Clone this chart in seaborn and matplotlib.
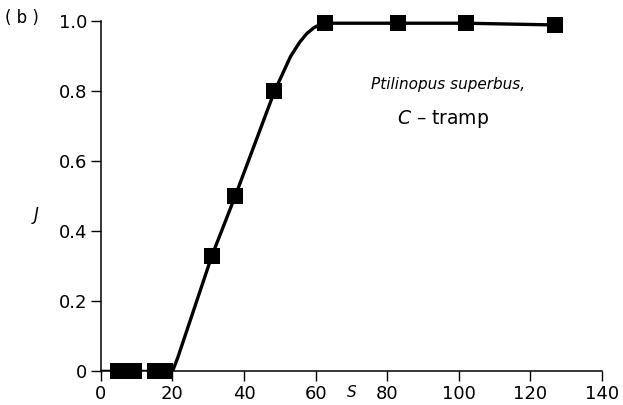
import matplotlib
matplotlib.use('Agg')
from matplotlib import pyplot as plt
import seaborn as sns
import pandas as pd

# observed points (S, J)
obs_s = [4.7, 9.2, 15, 18, 31, 37.5, 48.5, 62.5, 83, 102, 127]
obs_j = [0.0, 0.0, 0.0, 0.0, 0.33, 0.50, 0.80, 0.995, 0.995, 0.995, 0.99]

# hand-drawn fitted curve
curve_s = [0, 20, 21.5, 31, 37.5, 48.5, 53, 55.5, 57.5, 59.5, 61, 62.5, 83, 102, 127]
curve_j = [0.0, 0.0, 0.04, 0.33, 0.50, 0.80, 0.90, 0.94, 0.965, 0.982, 0.99, 0.995, 0.995, 0.995, 0.99]

x_ticks = [0, 20, 40, 60, 80, 100, 120, 140]
y_ticks = [0, 0.2, 0.4, 0.6, 0.8, 1.0]
y_labels = ['0', '0.2', '0.4', '0.6', '0.8', '1.0']

sns.set_style('ticks')
plt.rcParams['font.family'] = ['DejaVu Sans']
plt.rcParams['text.color'] = 'black'

fig = plt.figure(figsize=(6.23, 4.05), dpi=100)
ax = fig.add_axes([0.162, 0.083, 0.804, 0.864])

curve = pd.DataFrame({'S': curve_s, 'J': curve_j})
pts = pd.DataFrame({'S': obs_s, 'J': obs_j})

sns.lineplot(data=curve, x='S', y='J', estimator=None, sort=False,
             color='black', linewidth=2.4, ax=ax)
sns.scatterplot(data=pts, x='S', y='J', marker='s', s=120,
                color='black', edgecolor='black', linewidth=0,
                clip_on=False, zorder=3, ax=ax)

ax.set_xlim(0, 140)
ax.set_ylim(0, 1.0)
ax.set_xticks(x_ticks)
ax.set_yticks(y_ticks)
ax.set_yticklabels(y_labels)
ax.tick_params(axis='both', labelsize=13, length=7, width=1, pad=3,
               color='black', labelcolor='black')
for sp in ['left', 'bottom']:
    ax.spines[sp].set_linewidth(1.1)
    ax.spines[sp].set_color('black')
sns.despine(ax=ax)

ax.set_xlabel('')
ax.set_ylabel('')
ax.text(70, -0.06, 'S', style='italic', fontsize=11, ha='center', va='center',
        color='black')
fig.text(0.058, 0.47, 'J', style='italic', fontsize=12, ha='center', va='center',
         color='black')
fig.text(0.035, 0.955, '( b )', fontsize=12, ha='center', va='center',
         color='black')

ax.text(97, 0.82, 'Ptilinopus superbus,', style='italic', fontsize=11,
        ha='center', va='center', color='black')
ax.text(95.5, 0.72, '$\\it{C}$ \u2013 tramp', fontsize=13.5,
        ha='center', va='center', color='black')

fig.savefig('out.png', dpi=100)
